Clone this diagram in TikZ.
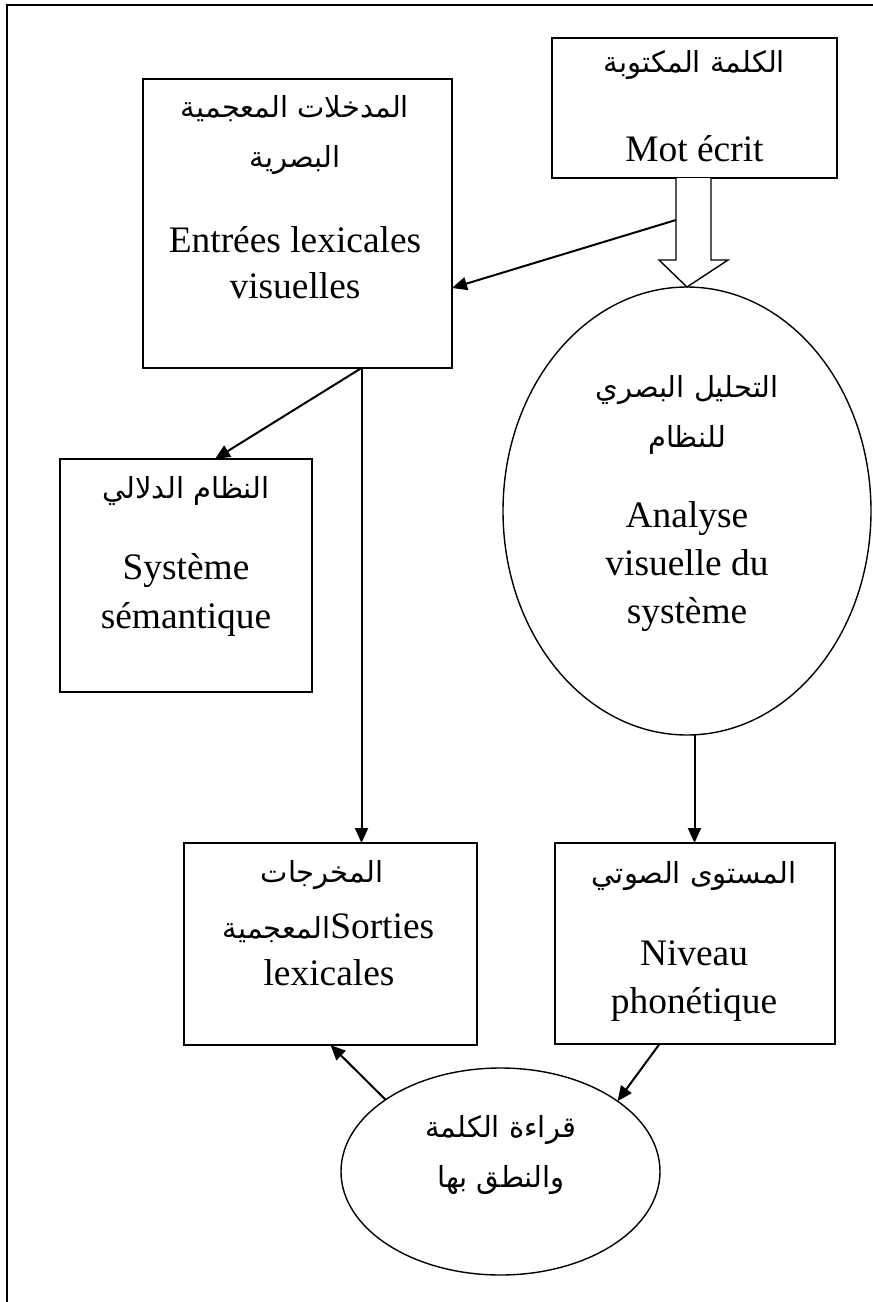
\documentclass[tikz,border=0pt]{standalone}
\usepackage{fontspec}
\setmainfont{Liberation Serif}
\newfontfamily\arabicfont[Script=Arabic]{DejaVu Sans}
\TeXXeTstate=1
\usetikzlibrary{shapes.geometric,arrows.meta,calc}
% right-to-left Arabic run
\newcommand\artext[1]{{\arabicfont\fontsize{14.5}{17}\selectfont\beginR #1\endR}}

\begin{document}
\begin{tikzpicture}[x=0.5pt,y=-0.5pt,
  box/.style={draw, line width=1pt, inner sep=0pt, outer sep=0pt},
  oval/.style={draw, ellipse, line width=0.7pt, inner sep=0pt, outer sep=0pt},
  txt/.style={inner sep=0pt, anchor=base, font=\fontsize{18.7}{22}\selectfont},
  arr/.style={line width=1pt, -{Triangle[length=7.5pt,width=6.5pt]}},
]
\useasboundingbox (0,0) rectangle (873,1302);

% page frame (top and left edges)
\coordinate (fr1) at (873,5);
\coordinate (fr0) at (7,5);
\coordinate (fr2) at (7,1302);
\draw[line width=0.8pt] (fr1) -- (fr0) -- (fr2);

% boxes and ovals
\node[box, minimum width=142.5pt, minimum height=70pt]   (mot)  at (694.5,108)   {};
\node[box, minimum width=154.5pt, minimum height=144.5pt] (vis) at (297.5,223.5) {};
\node[box, minimum width=126pt, minimum height=116.5pt]  (sem)  at (186,575.5)   {};
\node[box, minimum width=146.5pt, minimum height=101pt]  (out)  at (330.5,944)   {};
\node[box, minimum width=140pt, minimum height=100.5pt]  (pho)  at (694.5,943.5) {};
\node[oval, minimum width=184pt, minimum height=224pt]   (ana)  at (687,511)     {};
\node[oval, minimum width=159.5pt, minimum height=103.5pt] (read) at (500.5,1171.5) {};

% labels
\node[txt] (t1a) at (694.5,72)  {\artext{الكلمة المكتوبة}};
\node[txt] (t1b) at (694.5,161) {Mot écrit};

\node[txt] (t2a) at (295,117) {\artext{المدخلات المعجمية}};
\node[txt] (t2b) at (295,167) {\artext{البصرية}};
\node[txt] (t2c) at (295,252) {Entrées lexicales};
\node[txt] (t2d) at (295,298) {visuelles};

\node[txt] (t3a) at (186,498) {\artext{النظام الدلالي}};
\node[txt] (t3b) at (186,579) {Système};
\node[txt] (t3c) at (186,628) {sémantique};

\node[txt] (t4a) at (322,882)   {\artext{المخرجات}};
\node[txt] (t4b) at (328.5,938) {\artext{المعجمية}Sorties};
\node[txt] (t4c) at (329,985)   {lexicales};

\node[txt] (t5a) at (694,883)  {\artext{المستوى الصوتي}};
\node[txt] (t5b) at (694,965)  {Niveau};
\node[txt] (t5c) at (694,1013) {phonétique};

\node[txt] (t6a) at (687,397) {\artext{التحليل البصري}};
\node[txt] (t6b) at (687,447) {\artext{للنظام}};
\node[txt] (t6c) at (687,527) {Analyse};
\node[txt] (t6d) at (687,575) {visuelle du};
\node[txt] (t6e) at (687,623) {système};

\node[txt] (t7a) at (500.5,1137) {\artext{قراءة الكلمة}};
\node[txt] (t7b) at (501,1187)   {\artext{والنطق بها}};

% hollow block arrow from the written word to the visual analysis
\draw[line width=0.7pt, fill=white]
  ($(mot.south)+(-18.5,0)$) -- ($(mot.south)+(-18.5,82)$) -- ($(mot.south)+(-35.5,82)$)
  -- (ana.north) -- ($(mot.south)+(33.5,82)$) -- ($(mot.south)+(16.5,82)$)
  -- ($(mot.south)+(16.5,0)$);

% connectors
\coordinate (split) at ($(mot.south)+(-18.5,42)$);
\draw[arr] (split) -- ($(vis.east)+(0,64.5)$);

\coordinate (fork) at ($(vis.south)+(64,0)$);
\draw[arr] (fork) -- ($(sem.north)+(29,0)$);
\draw[arr] (fork) -- (fork |- out.north);

\draw[arr] (ana.south -| pho.north) -- (pho.north);
\draw[arr] ($(pho.south)+(-35,0)$) -- (read.31);
\draw[arr] (read.148) -- (out.south);
\end{tikzpicture}
\end{document}
